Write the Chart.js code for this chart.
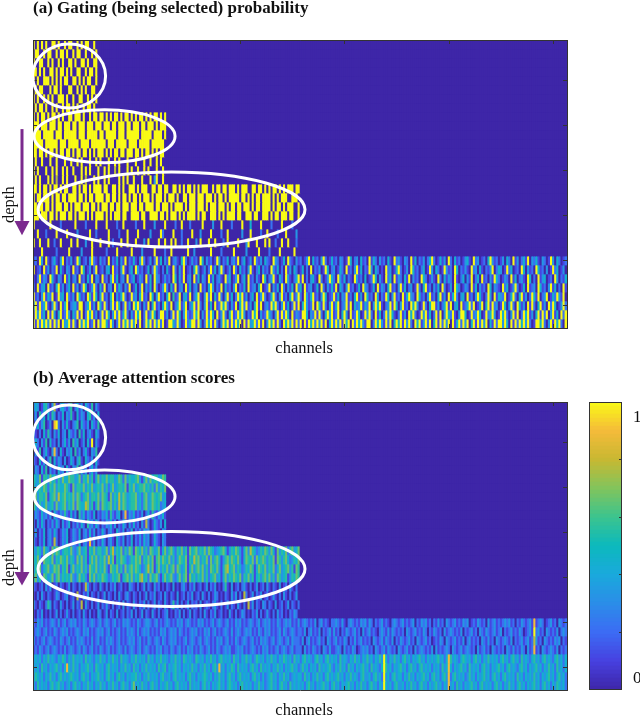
<!DOCTYPE html>
<html>
<head>
<meta charset="utf-8">
<title>Gating and attention</title>
<script src="https://cdn.jsdelivr.net/npm/chart.js@4"></script>
<style>
    html, body { margin: 0; padding: 0; background: #fff; overflow: hidden; width: 640px; height: 716px; }
    canvas { position: absolute; }
    #gating-chart { left: 0; top: -2px; }
    #attention-chart { left: 0; top: 360px; }
    #colorbar-chart { left: 580px; top: 360px; }
</style>
</head>
<body>
<canvas id="gating-chart" width="640" height="362"></canvas>
<canvas id="attention-chart" width="640" height="362"></canvas>
<canvas id="colorbar-chart" width="60" height="362"></canvas>
<script>
// One string per depth row, one digit per channel, 0 = score 0 and 9 = score 1.
// Spaces only split the digits in blocks of 16. Missing channels count as 0.
const gatingRows = [
    '9090909009909009 0990090909900900',
    '0990090990090990 9009099009009090',
    '9009900909009090 0990900990900990',
    '9909090099090990 9090099009099090',
    '9090099909090909 9009909090990090',
    '0909900090990900 0990090909009900',
    '9090090909009990 9009009900909090',
    '0909909009090090 9909090090990900',
    '9090990909909090 0990999090090990 9909090990909909 0909909090990909',
    '9990999099909909 9909909990999099 9099909909990990 9990990999090999',
    '9999099999099909 9999909990999990 9909999909990999 9990999990999909',
    '9999909999990999 0999990999909999 9990999099999099 9909999909999990',
    '9909909099090990 9909099099090909 9909090990990999 0990909909090990',
    '0900900090090009 0090090900090090 9000900909000900 0900090090090900',
    '9090009009090090 9009000909090009 0090900709000909 0090090900090090',
    '0909000909070090 9000900907000909 0090900009090900 9000900090390090',
    '9909099090990909 9009909099090999 9099009909090099 9090999009909909 9009909090990909 0999009099099099 9090999009909909 0909909090999099',
    '9099099909099099 0999909909099099 9909909909099090 9909099909099909 0999090099099909 9909990909909099 9990990909099099 9909090999009990',
    '9909909909099909 9090999099909909 0999099099099909 9909909999099099 9090999909099909 9909099909990909 9099099909099099 9909099090999009',
    '9990999099090999 0990909990909099 9909090999099009 9990990099990990 9099909090999909 0990099909090999 9099009990990099 9090990999099009',
    '9000000090000200 0000900002000090 0009000020090000 0200090000300009 0000200900020000 0900003000900002 0000900040000900 0020000900002000',
    '0090002000090000 9000030000090020 0000900002000900 0090000030000920 0009000200009000 3000090000200900 0000300090000200 9000020009000030',
    '9009000900200900 0090090003009000 9000902000900900 0900030900009009 0090900200900030 9000900900020900 0090003900090009 0900200900900020',
    '0000900000020000 0900000300009000 0002000090000009 0000300000900002 0090000000900300 0000090000200000 9000003000009000 0200009000000900',
    '1209309102410390 2130194012039210 3120902140319021 4103920130291403 1902310492013120 9403120193021402 3190240130921304 2109320140921031 2013904120392014 1203201940230412 0914203120410923 1032091402130249 2014130920412013 4109230120493120 1304209130241903 2410320193042012',
    '9012091302190410 3209120940130290 1203409120391024 0931201402931020 4109203190120492 0130291403920130 9204120391024031 2093140209130420 1402090213019402 3014209120391402 1930420109230149 2013094120240193 0420193120940213 1092304102139024 3019240120940312 0941203019240130',
    '1029132094103209 1402309120419032 0912039140230912 4013209140932013 1209403190230914 0320914023109240 1390240912031094 0239104209310249 1902034109201394 2093140210931204 0129403109240913 2041903120942013 1092041320910240 3190240912031942 0132091402310940 2091340120930214',
    '2091340912049130 2409130294013920 4190230914203190 1402903140920139 2041902309140230 9120493021904120 3902140912304901 2903140920314092 4091230140920314 1904203912014093 2014091320491203 9140230192049120 3140920130942013 2091403120940321 0924013920140912 3094120391402091',
    '9120391429019340 9213094120951940 3912049031492019 2304912094039120 4905129034190249 1039290419203914 0294913024091392 0149203912049139 2093149120394012 9140329120491309 4120930219403912 0914932094120391 2049130914920340 9120394102930914 3290149204913029 4190239014293190',
    '3919249103920914 9023419902491309 4192039194029130 9492031904912049 3190249139024919 2039140912949203 1904929130491902 3194920391402919 0493129094192039 1490239190423914 2903949102391940 3912094930192049 9130249190340912 4929013904919230 1940392094130919 2049130929401392',
    '1939240919304912 9304291902949130 2919403929149203 1949029139402991 3029194039212949 0319294091392049 1294930219490312 9420391929409132 1994032919204939 1290493091294019 3920914029394102 9130949201939140 2919039429103994 0192394019249301 9492039190294913 0491929039140929',
    '9192949391929093 4919209394912909 2994193029194929 3919029491939290 1994293019249919 3029491920394919 2949091934929190 3949192094939192 9091949293919049 2939194909294931 9902949319290494 9193920949139290 4919293909149293 9049192939041929 9394091929493920 1994920391949209'
];
const attentionRows = [
    '2430145203710342 1350241304215031',
    '1305240415302140 3251041320451304',
    '0241350130892031 4102350421304215',
    '3102041520314023 0421305140231042',
    '1420315041203024 1305240130419031',
    '0315024103820410 3240513024103250',
    '2104130250413203 0142035104213041',
    '0320415031204230 4103250413024130',
    '5436155364525364 4655346254635146 3546455346526354 4563146364553465',
    '5345465254635446 5316355463546345 4635246345546154 6345564535263546',
    '4635546145637456 4546365245635546 3654163547465345 5634256346545634',
    '6425346345263456 3546265447635146 2654563537465345 5634256346545234',
    '1321423130421325 2141305241321402 1324152134028132 4121302415213241',
    '2031420213142031 2402131420523142 0213241302142031 4120317201421304',
    '1302140231420132 4013214023141302 1420231042130214 0213142301421032',
    '3102140231720132 4013214023181302 1420231042130214 0213142301421032',
    '4354264316465245 5463246345154635 5346257354625365 1654635265346146 3564254635164563 5463654234564135 4653146375423546 5364163546256346',
    '5463165546254654 6354264635146463 5463746154654235 4656254646156465 4635246546154756 3546263564135646 5463146546264565 3546165356423546',
    '3546245634656254 6146354635265463 5463165463526356 4654235746146354 6356265346146356 4635265463146745 6354235465146546 3546246345635165',
    '4635165346256354 5463246453164635 4654235456145646 3546745264563146 4563246356164535 4635245634146354 6546254635145356 4635265345135465',
    '2101203130120210 1302102017310210 3102021301201032 1020130210312010 2103010231021301 2013021301025103 0120231020130120 3102103012031020',
    '1020310210132012 3012071021302102 0130210203102310 2102013021301203 1021030120213012 0310201320102103 1302072013021301 2013102031020130',
    '3102102530210310 2013021703102013 0213102012030210 3102130201302103 1025130201302120 3012102310201302 1031020713021032 0210301201302102',
    '1021301020130201 3102012031020103 2013021030120213 0201302103102012 3010213020130210 2031021301201031 0201320102130201 3102031201021320',
    '2132312123213123 1232312132123212 3123212312132321 2132123321231212 3212132312321213 2312123123212312 1323121232123123 2312132123231213 1232121302312102 2321310232121323 1320212312102321 2312123021323120 2131203212312132 3012132120312312 1232312021321231 8123201231203212',
    '1232123121321232 3121232132312123 2312312123121323 2131232312121323 1232313212123231 2132312312123213 1232123231213213 2312123132123212 2130231213021231 3120213212312031 2312102321313212 1203212312132021 3212031232121302 1231203213212312 3021231213201231 9231203212130232',
    '3121231232121321 2312132321213123 1213232123121232 3123121321232132 1232312123123212 3123212132312312 1321232123121323 2123123212313222 1302312123120321 2312132021312312 1203212313213021 3212312032123120 1213203212312130 2312120321312032 1232130212312312 7312032121323021',
    '1213212312321213 1232123132123121 3212312123213123 2123123212132312 2132123121323121 3212312132123231 1232312123212132 3121231232123122 2031213212032131 1232031213201232 3120321231321203 2123120312321213 0312123203212312 3212031231203212 1203213121320312 8120321232130212',
    '3434243534324354 2435343425343243 5342435342534324 3534342534243534 3243534254343254 3424353424534342 5342435342354342 4353424354342534 2453432453424534 3425343243534243 5342435394243534 2453424345342434 3453424853432454 3424534243534342 4534245342534324 5342453432453424',
    '4342534243453424 8435342434534254 3424534342435342 5342435343425345 2434534243435342 4353424538342435 4253434245342534 3424353424345342 3534243425343453 2435342534243453 4253432495342434 5342453424534342 4342534842434534 2534342453424345 3424534324534243 4534243534253424',
    '3543424353424534 3454342453424345 3424534245342434 4534243534342453 3424534342453424 3454342435342453 4245343424534242 3453424353423434 4253424353424534 3453424353432453 3424534293424534 4243534243453424 5342453824534342 3534243453424534 2453434253424343 5342434534245342',
    '4253434245345342 3424534243534243 5342435342453424 6343534245342434 5342453434253434 2453424345342454 3424534342435342 3453424534253434 3424534243453424 5342434534243534 2453424394342453 3424353424534243 4534243834253424 3453424534342453 4243534245342434 5342453424354342'
];

const colorStops = ['#3e26a8', '#4741e0', '#3c6cf4', '#2b8de8', '#1aa9dc', '#0cb9bd', '#3cc48e', '#82c45c', '#c8b832', '#f5bb3a', '#f9fb15'];
const colorbarTicks = [0.04, 0.2, 0.4, 0.6, 0.8, 0.945];
const rowTicks = [4.5, 9.5, 14.5, 19.5, 24.5, 29.5];
const channelTicks = [50, 100, 150, 200, 250];

const channelCount = 256;
const channelLabels = Array.from({ length: channelCount }, (_, i) => i + 1);
const serif = 'Liberation Serif';
const inkColor = '#111';

function hexToRgb(hex) {
    return [1, 3, 5].map(i => parseInt(hex.slice(i, i + 2), 16));
}

function colorFor(value) {
    const pos = Math.min(value, 1) * (colorStops.length - 1);
    const low = Math.floor(pos);
    const high = Math.min(low + 1, colorStops.length - 1);
    const a = hexToRgb(colorStops[low]);
    const b = hexToRgb(colorStops[high]);
    const mix = a.map((c, i) => Math.round(c + (b[i] - c) * (pos - low)));
    return 'rgb(' + mix.join(',') + ')';
}

function rowDataset(row) {
    const digits = row.replace(/ /g, '');
    return {
        data: channelLabels.map(() => 1),
        backgroundColor: channelLabels.map((c, i) => colorFor(parseInt(digits[i] || '0') / 9)),
        borderWidth: 0,
        barPercentage: 1,
        categoryPercentage: 1
    };
}

function setTicks(values) {
    return scale => {
        scale.ticks = values.map(v => ({ value: v }));
    };
}

const insideTicks = { drawOnChartArea: false, offset: false, tickLength: -4, tickColor: '#333', z: 1 };
const frame = { color: '#333', z: 1 };

// White rings, purple arrow and the axis words on top of a panel
const panelMarks = {
    id: 'panelMarks',
    // Dark fill behind the bars so their edges do not show white seams
    beforeDatasetsDraw(chart) {
        const a = chart.chartArea;
        chart.ctx.save();
        chart.ctx.fillStyle = colorStops[0];
        chart.ctx.fillRect(a.left, a.top, a.right - a.left, a.bottom - a.top);
        chart.ctx.restore();
    },
    afterDraw(chart, args, opts) {
        const ctx = chart.ctx;
        const xs = chart.scales.xTop;
        const ys = chart.scales.y;
        const area = chart.chartArea;

        ctx.save();
        ctx.strokeStyle = '#fff';
        ctx.lineWidth = 3;
        opts.rings.forEach(r => {
            const cx = xs.getPixelForValue(r[0]);
            const cy = ys.getPixelForValue(r[1]);
            const rx = xs.getPixelForValue(r[0] + r[2]) - cx;
            const ry = ys.getPixelForValue(r[1] + r[3]) - cy;
            ctx.beginPath();
            ctx.ellipse(cx, cy, rx, ry, 0, 0, Math.PI * 2);
            ctx.stroke();
        });

        const arrowX = area.left - 11;
        const top = ys.getPixelForValue(opts.arrow[0]);
        const neck = ys.getPixelForValue(opts.arrow[1]);
        const tip = ys.getPixelForValue(opts.arrow[2]);
        ctx.strokeStyle = '#7b2a8e';
        ctx.fillStyle = '#7b2a8e';
        ctx.beginPath();
        ctx.moveTo(arrowX, top);
        ctx.lineTo(arrowX, neck);
        ctx.stroke();
        ctx.beginPath();
        ctx.moveTo(arrowX - 7.5, neck);
        ctx.lineTo(arrowX + 7.5, neck);
        ctx.lineTo(arrowX, tip);
        ctx.closePath();
        ctx.fill();

        ctx.fillStyle = inkColor;
        ctx.font = '16.5px "' + serif + '"';
        ctx.textAlign = 'center';
        ctx.textBaseline = 'middle';
        ctx.fillText('channels', xs.getPixelForValue(130.5), area.bottom + 21);
        ctx.translate(area.left - 23, ys.getPixelForValue(opts.arrow[3]));
        ctx.rotate(-Math.PI / 2);
        ctx.fillText('depth', 0, 0);
        ctx.restore();
    }
};

// Thin dark box round the colorbar
const boxFrame = {
    id: 'boxFrame',
    afterDraw(chart) {
        const a = chart.chartArea;
        chart.ctx.save();
        chart.ctx.strokeStyle = '#333';
        chart.ctx.lineWidth = 1;
        chart.ctx.strokeRect(a.left + 0.5, a.top + 0.5, a.right - a.left - 1, a.bottom - a.top - 1);
        chart.ctx.restore();
    }
};

function buildPanel(id, rows, title, titleTop, rings, arrow) {
    return new Chart(document.getElementById(id), {
        type: 'bar',
        data: { labels: channelLabels, datasets: rows.map(rowDataset) },
        plugins: [panelMarks],
        options: {
            responsive: false,
            animation: false,
            devicePixelRatio: 1,
            layout: { padding: 0 },
            plugins: {
                legend: { display: false },
                tooltip: { enabled: false },
                title: {
                    display: true,
                    text: title,
                    align: 'start',
                    fullSize: false,
                    color: inkColor,
                    font: { family: serif, size: 17, weight: 'bold' },
                    padding: { top: titleTop, bottom: 42 - titleTop - 20.4 }
                },
                panelMarks: { rings: rings, arrow: arrow }
            },
            scales: {
                x: {
                    stacked: true,
                    offset: true,
                    grid: insideTicks,
                    border: frame,
                    ticks: { display: false, autoSkip: false },
                    afterBuildTicks: setTicks(channelTicks.map(c => c - 1)),
                    afterFit: scale => { scale.height = 32; }
                },
                y: {
                    stacked: true,
                    reverse: true,
                    min: 0,
                    max: rows.length,
                    grid: insideTicks,
                    border: frame,
                    ticks: { display: false },
                    afterBuildTicks: setTicks(rowTicks),
                    afterFit: scale => { scale.width = 33; }
                },
                xTop: {
                    type: 'linear',
                    position: 'top',
                    offset: false,
                    min: 0.5,
                    max: channelCount + 0.5,
                    grid: insideTicks,
                    border: frame,
                    ticks: { display: false },
                    afterBuildTicks: setTicks(channelTicks),
                    afterFit: scale => { scale.height = 0; }
                },
                yRight: {
                    type: 'linear',
                    position: 'right',
                    reverse: true,
                    min: 0,
                    max: rows.length,
                    grid: insideTicks,
                    border: frame,
                    ticks: { display: false },
                    afterBuildTicks: setTicks(rowTicks),
                    afterFit: scale => { scale.width = 73; }
                }
            }
        }
    });
}

function buildColorbar() {
    // 72 steps over the 288 pixel bar, so every step sits on whole pixels
    const steps = Array.from({ length: 72 }, (_, i) => i);
    return new Chart(document.getElementById('colorbar-chart'), {
        type: 'bar',
        data: {
            labels: ['score'],
            datasets: steps.map(i => ({
                data: [1 / 72],
                backgroundColor: colorFor((i + 0.5) / 72),
                borderWidth: 0,
                barPercentage: 1,
                categoryPercentage: 1
            }))
        },
        plugins: [boxFrame],
        options: {
            responsive: false,
            animation: false,
            devicePixelRatio: 1,
            layout: { padding: { left: 9, top: 42, bottom: 32 } },
            plugins: { legend: { display: false }, tooltip: { enabled: false } },
            scales: {
                x: { stacked: true, display: false },
                y: {
                    stacked: true,
                    position: 'right',
                    min: 0,
                    max: 1,
                    border: { display: false },
                    grid: {
                        drawOnChartArea: false,
                        tickLength: -3,
                        z: 1,
                        tickColor: c => (c.tick.value > 0.9 || c.tick.value < 0.1) ? 'transparent' : '#333'
                    },
                    ticks: {
                        autoSkip: false,
                        padding: 14,
                        color: inkColor,
                        font: { family: serif, size: 17 },
                        callback: v => v > 0.9 ? '1' : (v < 0.1 ? '0' : '')
                    },
                    afterBuildTicks: setTicks(colorbarTicks),
                    afterFit: scale => { scale.width = 18; }
                }
            }
        }
    });
}

// ring: centre channel, centre row, radius in channels, radius in rows
// arrow: start row, head row, tip row, label row
buildPanel('gating-chart', gatingRows, '(a) Gating (being selected) probability', 0,
    [[17.8, 4, 17.5, 3.56], [34.8, 10.7, 33.8, 2.94], [66.9, 18.83, 64, 4.17]],
    [9.9, 20.1, 21.7, 18.3]);
buildPanel('attention-chart', attentionRows, '(b) Average attention scores', 8.8,
    [[17.8, 3.94, 17.5, 3.6], [34.8, 10.5, 33.8, 2.94], [66.9, 18.55, 64, 4.17]],
    [8.6, 18.9, 20.4, 18.4]);
buildColorbar();
</script>
</body>
</html>
